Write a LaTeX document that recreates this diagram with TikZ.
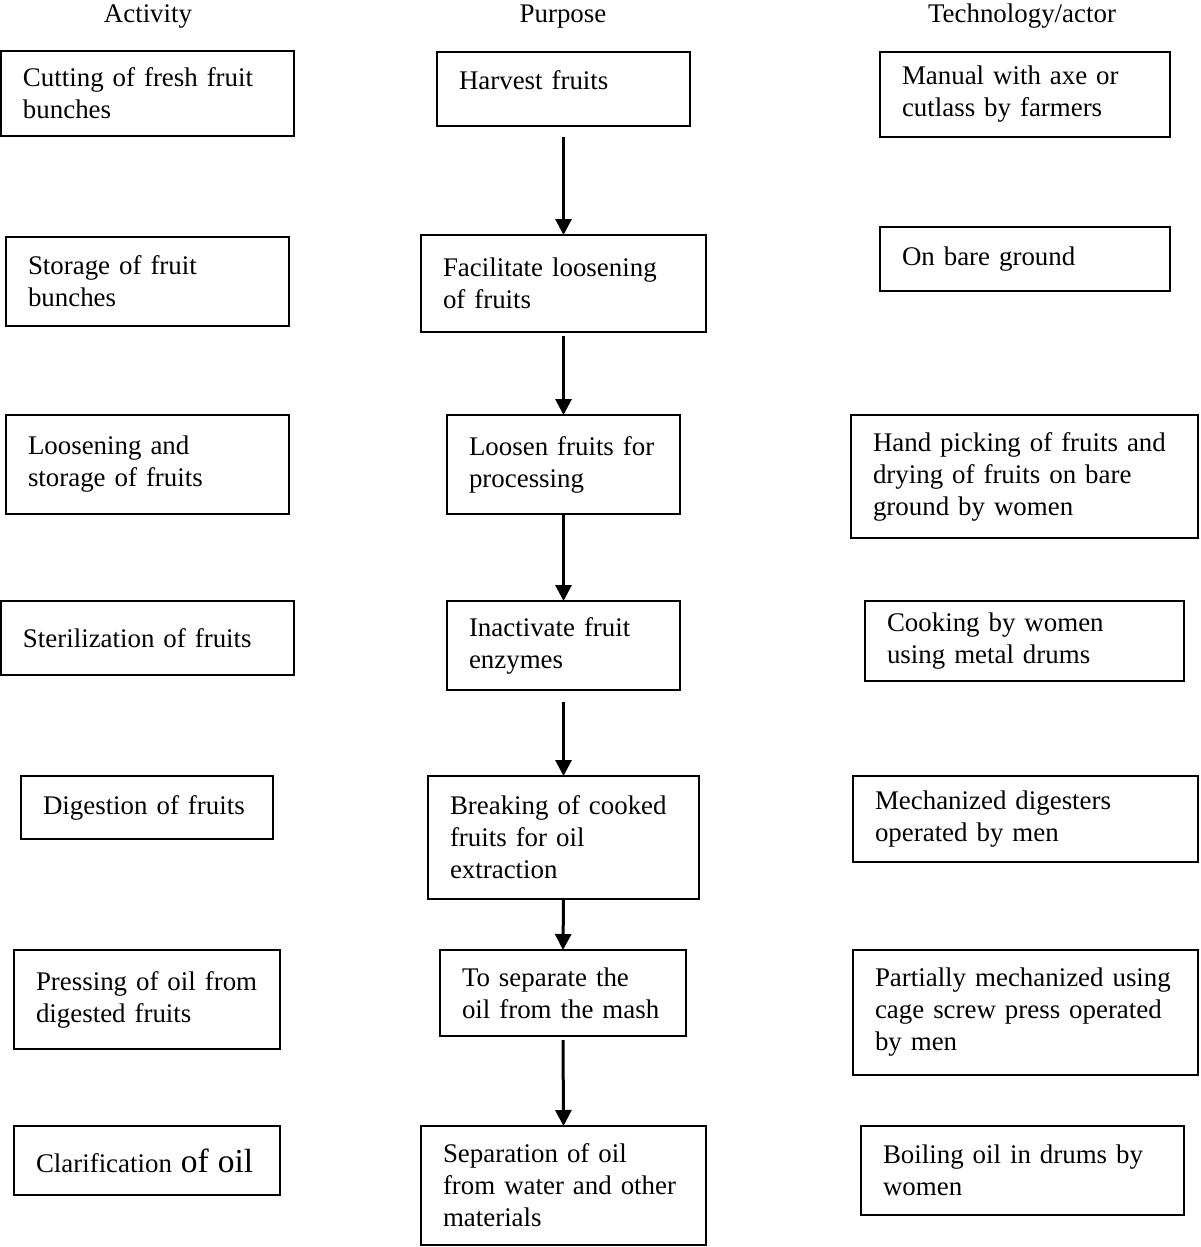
\documentclass[tikz,border=0pt]{standalone}
\usepackage{fontspec}
\setmainfont{Liberation Serif}
\usetikzlibrary{arrows.meta}
\newcommand{\mkbox}[6]{%
  \node[boxst, minimum width=#4pt-#2pt, minimum height=#5pt-#3pt, text width=#4pt-#2pt-44pt] (#1) at (#2,#3) {#6};}
\newcommand{\bxl}[1]{\mbox{#1}}
\begin{document}
\begin{tikzpicture}[x=1pt,y=-1pt,
  boxst/.style={draw, line width=2pt, anchor=north west, outer sep=0pt, inner xsep=22pt, inner ysep=2pt, align=left,
    font=\fontsize{26.9pt}{32pt}\selectfont},
  head/.style={anchor=base, inner sep=0pt, font=\fontsize{26.9pt}{32pt}\selectfont},
  arr/.style={line width=3pt, -{Triangle[width=16pt,length=16pt]}}]
\useasboundingbox (0,0) rectangle (1200,1247);
\node[head] (hA) at (148,23) {Activity};
\node[head] (hP) at (563,23) {Purpose};
\node[head] (hT) at (1022,23) {Technology/actor};
% Activity column
\mkbox{a1}{1}{51}{294}{136}{\bxl{Cutting of fresh fruit}\\\bxl{bunches}}
\mkbox{a2}{6}{237}{289}{326}{\bxl{Storage of fruit}\\\bxl{bunches}}
\mkbox{a3}{6}{415}{289}{514}{\bxl{Loosening and}\\\bxl{storage of fruits}}
\mkbox{a4}{1}{601}{294}{675}{\bxl{Sterilization of fruits}}
\mkbox{a5}{21}{776}{273}{839}{\bxl{Digestion of fruits}}
\mkbox{a6}{14}{950}{280}{1049}{\bxl{Pressing of oil from}\\\bxl{digested fruits}}
\mkbox{a7}{14}{1126}{280}{1195}{\bxl{Clarification {\fontsize{33.5pt}{32pt}\selectfont of oil}}}
% Purpose column
\node[boxst, minimum width=253pt, minimum height=74pt, text width=209pt, text depth=18pt] (p1) at (437,52) {\bxl{Harvest fruits}};
\mkbox{p2}{421}{235}{706}{332}{\bxl{Facilitate loosening}\\\bxl{of fruits}}
\mkbox{p3}{447}{415}{680}{514}{\bxl{Loosen fruits for}\\\bxl{processing}}
\mkbox{p4}{447}{601}{680}{690}{\bxl{Inactivate fruit}\\\bxl{enzymes}}
\mkbox{p5}{428}{776}{699}{899}{\bxl{Breaking of cooked}\\\bxl{fruits for oil}\\\bxl{extraction}}
\mkbox{p6}{440}{950}{686}{1036}{\bxl{To separate the}\\\bxl{oil from the mash}}
\mkbox{p7}{421}{1126}{706}{1245}{\bxl{Separation of oil}\\\bxl{from water and other}\\\bxl{materials}}
% Technology column
\mkbox{t1}{880}{52}{1170}{137}{\bxl{Manual with axe or}\\\bxl{cutlass by farmers}}
\mkbox{t2}{880}{227}{1170}{291}{\bxl{On bare ground}}
\mkbox{t3}{851}{415}{1198}{538}{\bxl{Hand picking of fruits and}\\\bxl{drying of fruits on bare}\\\bxl{ground by women}}
\mkbox{t4}{865}{601}{1184}{681}{\bxl{Cooking by women}\\\bxl{using metal drums}}
\mkbox{t5}{853}{776}{1198}{862}{\bxl{Mechanized digesters}\\\bxl{operated by men}}
\mkbox{t6}{853}{950}{1198}{1075}{\bxl{Partially mechanized using}\\\bxl{cage screw press operated}\\\bxl{by men}}
\mkbox{t7}{861}{1126}{1184}{1215}{\bxl{Boiling oil in drums by}\\\bxl{women}}
% arrows
\draw[arr, shorten <=11pt] (p1.south) -- (p2.north);
\draw[arr, shorten <=4pt] (p2.south) -- (p3.north);
\draw[arr, shorten <=1pt] (p3.south) -- (p4.north);
\draw[arr, shorten <=12pt] (p4.south) -- (p5.north);
\draw[arr, shorten <=1pt] (p5.south) -- (p6.north);
\draw[arr, shorten <=4pt] (p6.south) -- (p7.north);
\end{tikzpicture}
\end{document}
